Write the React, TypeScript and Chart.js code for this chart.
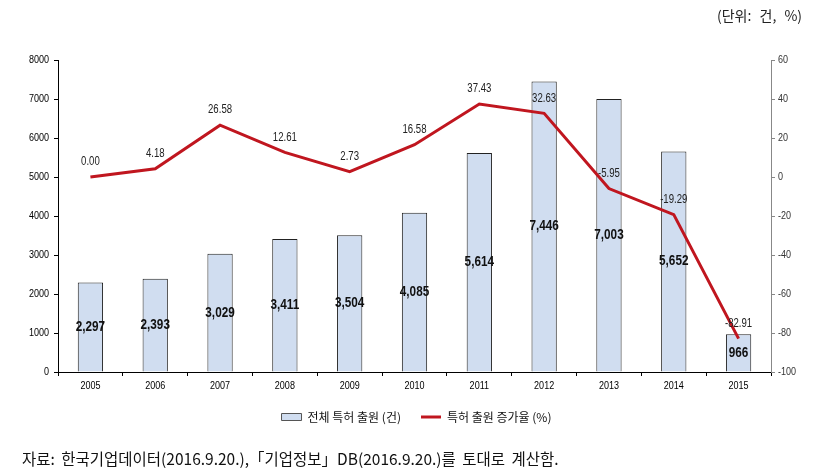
import React, { useEffect, useRef } from 'react';
import { Chart, registerables } from 'chart.js';

Chart.register(...registerables);

const years = ['2005', '2006', '2007', '2008', '2009', '2010', '2011', '2012', '2013', '2014', '2015'];
const applications = [2297, 2393, 3029, 3411, 3504, 4085, 5614, 7446, 7003, 5652, 966];
const growthRates = [0.0, 4.18, 26.58, 12.61, 2.73, 16.58, 37.43, 32.63, -5.95, -19.29, -82.91];

const barLegend = '전체 특허 출원 (건)';
const lineLegend = '특허 출원 증가율 (%)';
const unitText = '(단위: 건, %)';
const sourceText = '자료: 한국기업데이터(2016.9.20.),「기업정보」DB(2016.9.20.)를 토대로 계산함.';

const SANS = "'Liberation Sans', Arial, sans-serif";
const KR = "'Noto Sans CJK KR', 'Noto Sans', sans-serif";

const BAR_FILL = '#d0ddf0';
const BAR_BORDER = '#222222';
const LINE_COLOR = '#c0161f';

function narrowText(ctx: any, text: string, x: number, y: number, align: string, squeeze: number) {
  ctx.save();
  ctx.translate(x, y);
  ctx.scale(squeeze, 1);
  ctx.textAlign = align;
  ctx.fillText(text, 0, 0);
  ctx.restore();
}

const narrowLabels = {
  id: 'narrowLabels',
  afterDatasetsDraw(chart: any) {
    const ctx = chart.ctx;
    ctx.save();
    ctx.textBaseline = 'middle';
    const barMeta = chart.getDatasetMeta(1);
    ctx.font = `bold 14px ${SANS}`;
    ctx.fillStyle = '#111111';
    barMeta.data.forEach((el: any, i: number) => {
      const p = el.getProps(['x', 'y', 'base'], true);
      narrowText(ctx, applications[i].toLocaleString('en-US'), p.x, (p.y + p.base) / 2, 'center', 0.84);
    });
    const lineMeta = chart.getDatasetMeta(0);
    ctx.font = `12px ${SANS}`;
    ctx.fillStyle = '#222222';
    lineMeta.data.forEach((el: any, i: number) => {
      narrowText(ctx, growthRates[i].toFixed(2), el.x, el.y - 15, 'center', 0.8);
    });
    ctx.restore();
  },
  afterDraw(chart: any) {
    const ctx = chart.ctx;
    const { x, y, y1 } = chart.scales;
    ctx.save();
    ctx.textBaseline = 'middle';
    ctx.font = `11px ${SANS}`;
    ctx.fillStyle = '#000000';
    x.ticks.forEach((t: any, i: number) => {
      narrowText(ctx, String(x.getLabelForValue(t.value)), x.getPixelForTick(i), x.top + 14, 'center', 0.82);
    });
    y.ticks.forEach((t: any) => {
      narrowText(ctx, String(t.value), y.right - 9, y.getPixelForValue(t.value), 'right', 0.82);
    });
    ctx.fillStyle = '#333333';
    y1.ticks.forEach((t: any) => {
      narrowText(ctx, String(t.value), y1.left + 7, y1.getPixelForValue(t.value), 'left', 0.82);
    });
    ctx.restore();
  },
};

export default function App() {
  const canvasRef = useRef<HTMLCanvasElement | null>(null);

  useEffect(() => {
    if (!canvasRef.current) return;
    const chart = new Chart(canvasRef.current, {
      type: 'bar',
      data: {
        labels: years,
        datasets: [
          {
            type: 'line',
            label: lineLegend,
            data: growthRates,
            yAxisID: 'y1',
            borderColor: LINE_COLOR,
            backgroundColor: LINE_COLOR,
            borderWidth: 3,
            pointRadius: 0,
            tension: 0,
            order: 0,
          } as any,
          {
            type: 'bar',
            label: barLegend,
            data: applications,
            yAxisID: 'y',
            backgroundColor: BAR_FILL,
            borderColor: BAR_BORDER,
            borderWidth: 1,
            categoryPercentage: 1,
            barPercentage: 0.39,
            order: 1,
          } as any,
        ],
      },
      options: {
        responsive: false,
        animation: false,
        devicePixelRatio: 1,
        layout: { padding: { top: 60, left: 0, right: 0, bottom: 39 } },
        plugins: {
          tooltip: { enabled: false },
          legend: {
            position: 'bottom',
            labels: {
              usePointStyle: true,
              pointStyleWidth: 20,
              boxWidth: 20,
              boxHeight: 7,
              padding: 20,
              color: '#111111',
              font: { family: KR, size: 12 },
              generateLabels: () => [
                {
                  text: barLegend,
                  fillStyle: BAR_FILL,
                  strokeStyle: '#555555',
                  lineWidth: 1,
                  pointStyle: 'rect',
                  datasetIndex: 1,
                  hidden: false,
                  fontColor: '#111111',
                } as any,
                {
                  text: lineLegend,
                  fillStyle: LINE_COLOR,
                  strokeStyle: LINE_COLOR,
                  lineWidth: 3,
                  pointStyle: 'line',
                  datasetIndex: 0,
                  hidden: false,
                  fontColor: '#111111',
                } as any,
              ],
            },
          },
        },
        scales: {
          x: {
            afterFit: (s: any) => {
              s.height = 19;
            },
            grid: {
              display: true,
              drawOnChartArea: false,
              drawTicks: true,
              tickLength: 4,
              color: '#000000',
              offset: true,
            },
            border: { display: true, color: '#000000', width: 1 },
            ticks: { display: false },
          },
          y: {
            position: 'left',
            min: 0,
            max: 8000,
            afterFit: (s: any) => {
              s.width = 58;
            },
            grid: {
              display: true,
              drawOnChartArea: false,
              drawTicks: true,
              tickLength: 4,
              color: '#000000',
            },
            border: { display: true, color: '#000000', width: 1 },
            ticks: { stepSize: 1000, display: false },
          },
          y1: {
            position: 'right',
            min: -100,
            max: 60,
            afterFit: (s: any) => {
              s.width = 62;
            },
            grid: {
              display: true,
              drawOnChartArea: false,
              drawTicks: true,
              tickLength: 4,
              color: '#888888',
            },
            border: { display: true, color: '#888888', width: 1 },
            ticks: { stepSize: 20, display: false },
          },
        },
      },
      plugins: [narrowLabels],
    });
    return () => chart.destroy();
  }, []);

  return (
    <div
      style={{
        position: 'fixed',
        left: 0,
        top: 0,
        width: 833,
        height: 472,
        background: '#ffffff',
        overflow: 'hidden',
      }}
    >
      <canvas ref={canvasRef} width={833} height={472} style={{ position: 'absolute', left: 0, top: 0 }} />
      <div
        style={{
          position: 'absolute',
          left: 717,
          top: 5,
          fontFamily: KR,
          fontSize: 14,
          color: '#222222',
          whiteSpace: 'nowrap',
          lineHeight: '20px',
          wordSpacing: '5px',
        }}
      >
        {unitText}
      </div>
      <div
        style={{
          position: 'absolute',
          left: 22,
          top: 447,
          fontFamily: KR,
          fontSize: 15.5,
          color: '#111111',
          whiteSpace: 'nowrap',
          lineHeight: '22px',
          wordSpacing: '3px',
        }}
      >
        {sourceText}
      </div>
    </div>
  );
}
